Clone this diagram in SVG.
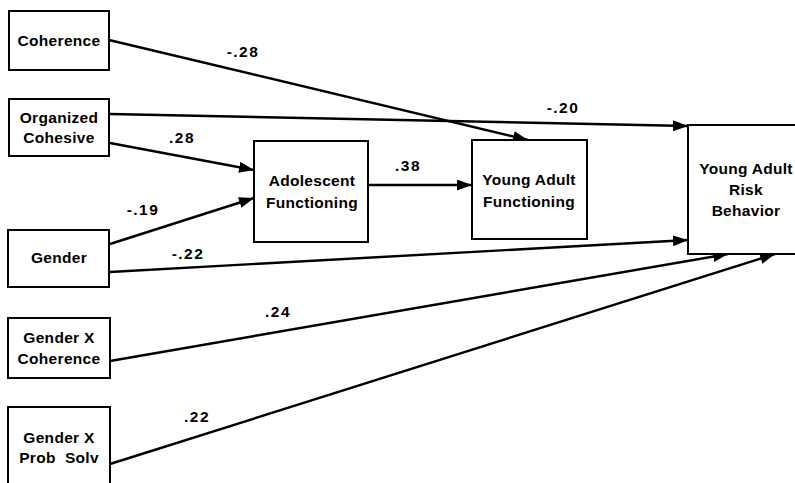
<svg xmlns="http://www.w3.org/2000/svg" width="795" height="483" viewBox="0 0 795 483">
<style>
.box{fill:#fff;stroke:#000;stroke-width:2}
.t{font-family:"Liberation Sans",Arial,sans-serif;font-weight:bold;font-size:15.5px;fill:#000;text-anchor:middle;letter-spacing:0.3px}
.lbl{font-family:"Liberation Sans",Arial,sans-serif;font-weight:bold;font-size:15.5px;fill:#000;text-anchor:middle;letter-spacing:1.5px}
.c{fill:none;stroke:#000;stroke-width:2.4;marker-end:url(#ah)}
</style>
<defs>
<marker id="ah" markerUnits="userSpaceOnUse" markerWidth="18" markerHeight="12" refX="15" refY="5.5" orient="auto">
<path d="M0,0 L15,5.5 L0,11 z" fill="#000"/>
</marker>
</defs>
<rect width="795" height="483" fill="#fff"/>
<g id="connectors">
<path class="c" d="M109,40 L528,140"/>
<path class="c" d="M110,114 L688,126"/>
<path class="c" d="M110,143 L254,170"/>
<path class="c" d="M110,244 L254,198"/>
<path class="c" d="M110,272 L688,240"/>
<path class="c" d="M368,185 L472,185"/>
<path class="c" d="M110,361 L728,254"/>
<path class="c" d="M110,464 L775,254"/>
<text class="lbl" x="243" y="57">-.28</text>
<text class="lbl" x="563" y="113">-.20</text>
<text class="lbl" x="182" y="143">.28</text>
<text class="lbl" x="143" y="215">-.19</text>
<text class="lbl" x="188" y="259">-.22</text>
<text class="lbl" x="408" y="171">.38</text>
<text class="lbl" x="278" y="317">.24</text>
<text class="lbl" x="197" y="422">.22</text>
</g>
<g id="coherence">
<rect class="box" x="9" y="11" width="100" height="59"/>
<text class="t" x="59" y="46">Coherence</text>
</g>
<g id="organized-cohesive">
<rect class="box" x="9" y="99" width="100" height="57"/>
<text class="t" x="59" y="123">Organized</text>
<text class="t" x="59" y="143">Cohesive</text>
</g>
<g id="gender">
<rect class="box" x="8" y="230" width="101" height="57"/>
<text class="t" x="59" y="263">Gender</text>
</g>
<g id="gender-x-coherence">
<rect class="box" x="8" y="318" width="102" height="60"/>
<text class="t" x="59" y="343">Gender X</text>
<text class="t" x="59" y="364">Coherence</text>
</g>
<g id="gender-x-prob-solv">
<rect class="box" x="8" y="407" width="102" height="90"/>
<text class="t" x="59" y="443">Gender X</text>
<text class="t" x="59" y="463" xml:space="preserve">Prob  Solv</text>
</g>
<g id="adolescent-functioning">
<rect class="box" x="254" y="141" width="114" height="101"/>
<text class="t" x="312" y="186">Adolescent</text>
<text class="t" x="312" y="208">Functioning</text>
</g>
<g id="young-adult-functioning">
<rect class="box" x="472" y="140" width="115" height="99"/>
<text class="t" x="529" y="185">Young Adult</text>
<text class="t" x="529" y="207">Functioning</text>
</g>
<g id="young-adult-risk-behavior">
<rect class="box" x="688" y="125" width="130" height="129"/>
<text class="t" x="746" y="174">Young Adult</text>
<text class="t" x="746" y="195">Risk</text>
<text class="t" x="746" y="216">Behavior</text>
</g>
</svg>
